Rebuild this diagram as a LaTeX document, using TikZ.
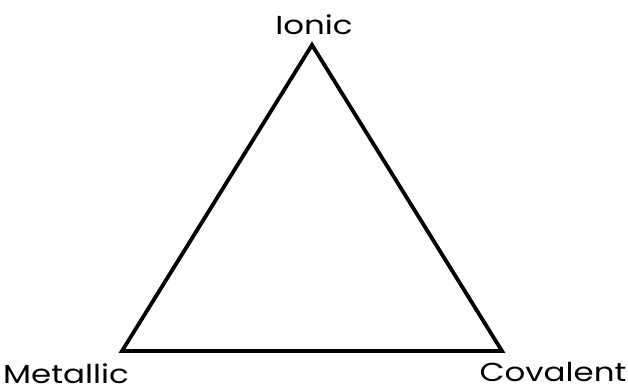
\documentclass[tikz,border=0pt]{standalone}
\usepackage{fontspec}
\setmainfont{Poppins}[FakeStretch=1.25]
\begin{document}
\begin{tikzpicture}[x=1pt, y=-1pt, every node/.style={font=\fontsize{26}{30}\selectfont, anchor=base, inner sep=0pt}]
	\useasboundingbox (0,0) rectangle (628,389);
	\coordinate (ionic) at (312,45);
	\coordinate (metallic) at (122,351);
	\coordinate (covalent) at (502,351);
	\draw[line width=3.8pt, line join=miter] (ionic) -- (metallic) -- (covalent) -- cycle;
	\node (ionicLabel) at (314,34) {Ionic};
	\node (metallicLabel) at (66,383) {Metallic};
	\node (covalentLabel) at (553,381) {Covalent};
\end{tikzpicture}
\end{document}
